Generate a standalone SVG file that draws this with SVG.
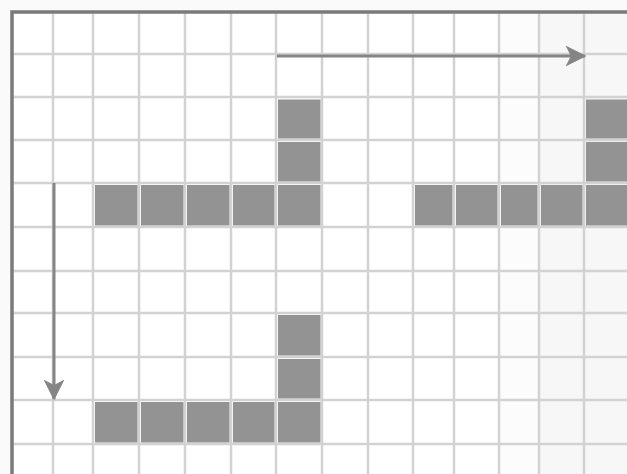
<svg xmlns="http://www.w3.org/2000/svg" width="627" height="474" viewBox="0 0 627 474">
<style>
.g{stroke:#d2d2d2;stroke-width:2.5;fill:none}
.c{fill:#939393}
.b{stroke:#7a7a7a;stroke-width:3.5;fill:none}
.a{stroke:#858585;stroke-width:3;fill:none}
.ah{fill:#858585}
</style>
<defs>
<marker id="arr" markerWidth="7" markerHeight="7" refX="6.5" refY="3.5" orient="auto" markerUnits="strokeWidth">
<path d="M0,0 L7,3.5 L0,7 L1.8,3.5 Z" class="ah"/>
</marker>
</defs>
<rect x="0" y="0" width="627" height="474" fill="#fafafa"/>
<rect x="12" y="12" width="615" height="462" fill="#ffffff"/>
<rect x="499" y="12" width="40" height="462" fill="#fcfcfc"/>
<rect x="539" y="12" width="88" height="462" fill="#f7f7f7"/>
<g id="grid">
<path class="g" d="M53,12V474M93,12V474M139,12V474M185,12V474M231,12V474M276,12V474M322,12V474M368,12V474M413,12V474M454,12V474M499,12V474M539,12V474M584,12V474"/>
<path class="g" d="M12,54H627M12,97H627M12,140H627M12,183H627M12,227H627M12,271H627M12,313H627M12,357H627M12,400H627M12,444H627"/>
</g>
<g id="shape-top-left">
<rect class="c" x="278" y="99.5" width="42.5" height="39"/>
<rect class="c" x="278" y="142" width="42.5" height="39.5"/>
<rect class="c" x="95" y="185" width="42.5" height="40.5"/>
<rect class="c" x="141" y="185" width="42.5" height="40.5"/>
<rect class="c" x="187" y="185" width="42.5" height="40.5"/>
<rect class="c" x="233" y="185" width="41.5" height="40.5"/>
<rect class="c" x="278" y="185" width="42.5" height="40.5"/>
</g>
<g id="shape-top-right">
<rect class="c" x="586" y="99.5" width="41" height="39"/>
<rect class="c" x="586" y="142" width="41" height="39.5"/>
<rect class="c" x="415" y="185" width="37.5" height="40.5"/>
<rect class="c" x="456" y="185" width="41.5" height="40.5"/>
<rect class="c" x="501" y="185" width="36.5" height="40.5"/>
<rect class="c" x="541" y="185" width="41.5" height="40.5"/>
<rect class="c" x="586" y="185" width="41" height="40.5"/>
</g>
<g id="shape-bottom-left">
<rect class="c" x="278" y="315" width="42.5" height="40.5"/>
<rect class="c" x="278" y="359" width="42.5" height="39.5"/>
<rect class="c" x="95" y="402" width="42.5" height="40.5"/>
<rect class="c" x="141" y="402" width="42.5" height="40.5"/>
<rect class="c" x="187" y="402" width="42.5" height="40.5"/>
<rect class="c" x="233" y="402" width="41.5" height="40.5"/>
<rect class="c" x="278" y="402" width="42.5" height="40.5"/>
</g>
<g id="border">
<path class="b" d="M12,474V12H627"/>
</g>
<g id="connectors">
<path class="a" d="M277,56H585" marker-end="url(#arr)"/>
<path class="a" d="M54,183V399" marker-end="url(#arr)"/>
</g>
</svg>
